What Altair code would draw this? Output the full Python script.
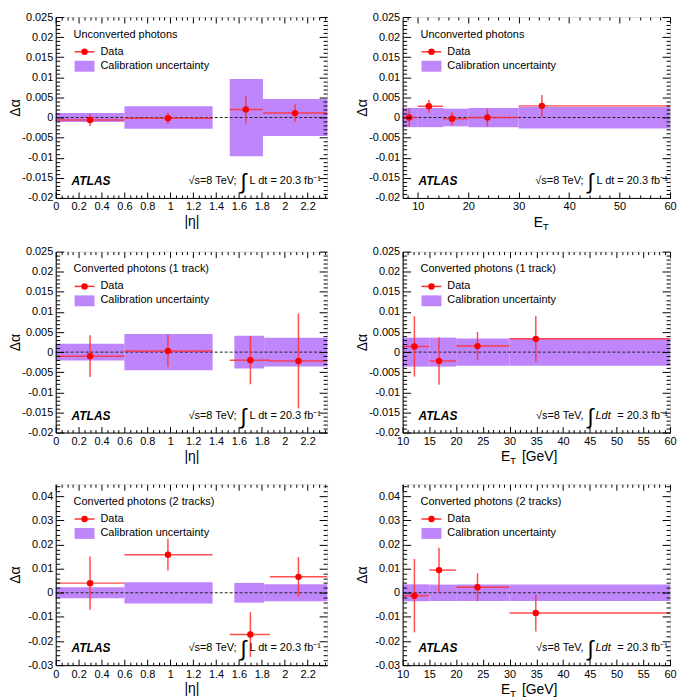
import altair as alt
import pandas as pd

FONT = "Liberation Sans"
PURPLE = "#bf86fb"
RED = "#ff0000"
RED_BAR = "#ff3030"

# ---------------- data ----------------
# (a) Unconverted photons vs |eta|
a_band_lo = [0.0, 0.6, 1.52, 1.81]
a_band_hi = [0.6, 1.37, 1.81, 2.37]
a_band_err = [0.0011, 0.0028, 0.0096, 0.0046]
a_x = [0.30, 0.98, 1.66, 2.09]
a_y = [-0.0006, -0.0002, 0.0020, 0.0011]
a_err = [0.0015, 0.0014, 0.0035, 0.0022]
a_bin_lo = [0.0, 0.6, 1.52, 1.81]
a_bin_hi = [0.6, 1.37, 1.81, 2.37]

# (b) Unconverted photons vs E_T
b_band_lo = [7, 10, 15, 20, 30]
b_band_hi = [10, 15, 20, 30, 60]
b_band_err = [0.0024, 0.0024, 0.0022, 0.0024, 0.0027]
b_x = [8.3, 12.2, 16.8, 23.8, 34.6]
b_y = [0.0000, 0.0028, -0.0003, 0.0000, 0.0029]
b_err = [0.0023, 0.0016, 0.0016, 0.0022, 0.0027]
b_bin_lo = [7, 10, 15, 20, 30]
b_bin_hi = [10, 15, 20, 30, 60]

# (c) Converted photons (1 track) vs |eta|
c_band_lo = [0.0, 0.6, 1.56, 1.82]
c_band_hi = [0.6, 1.37, 1.82, 2.37]
c_band_err = [0.0021, 0.0045, 0.0041, 0.0036]
c_x = [0.30, 0.98, 1.70, 2.12]
c_y = [-0.0010, 0.0003, -0.0020, -0.0022]
c_err = [0.0052, 0.0040, 0.0060, 0.0118]
c_bin_lo = [0.0, 0.6, 1.52, 1.87]
c_bin_hi = [0.6, 1.37, 1.87, 2.37]

# (d) Converted photons (1 track) vs E_T
d_band_lo = [10, 15, 20, 30]
d_band_hi = [15, 20, 30, 60]
d_band_err = [0.0036, 0.0036, 0.0034, 0.0034]
d_x = [12.2, 16.8, 24.0, 34.9]
d_y = [0.0014, -0.0022, 0.0015, 0.0033]
d_err = [0.0075, 0.0059, 0.0035, 0.0057]
d_bin_lo = [10, 15, 20, 30]
d_bin_hi = [15, 20, 30, 60]

# (e) Converted photons (2 tracks) vs |eta|
e_band_lo = [0.0, 0.6, 1.56, 1.82]
e_band_hi = [0.6, 1.37, 1.82, 2.37]
e_band_err = [0.0023, 0.0044, 0.0041, 0.0035]
e_x = [0.30, 0.98, 1.70, 2.12]
e_y = [0.0040, 0.0158, -0.0173, 0.0066]
e_err = [0.0110, 0.0066, 0.0093, 0.0082]
e_bin_lo = [0.0, 0.6, 1.52, 1.87]
e_bin_hi = [0.6, 1.37, 1.87, 2.37]

# (f) Converted photons (2 tracks) vs E_T
f_band_lo = [10, 15, 20, 30]
f_band_hi = [15, 20, 30, 60]
f_band_err = [0.0035, 0.0034, 0.0034, 0.0034]
f_x = [12.2, 16.8, 24.0, 34.9]
f_y = [-0.0012, 0.0094, 0.0023, -0.0084]
f_err = [0.0152, 0.0093, 0.0058, 0.0077]
f_bin_lo = [10, 15, 20, 30]
f_bin_hi = [15, 20, 30, 60]

# axis tick positions
ETA_TICKS = [round(0.05 * i, 2) for i in range(48)]
ET_TICKS_B = list(range(8, 61, 2))
ET_TICKS = list(range(10, 61))
Y_TICKS_TOP = [round(-0.02 + 0.001 * i, 3) for i in range(46)]
Y_TICKS_BOT = [round(-0.03 + 0.002 * i, 3) for i in range(38)]

ONE = pd.DataFrame({"k": [0]})


def txt(s, x, y, size=11, align="left", weight="normal", style="normal"):
    return alt.Chart(ONE).mark_text(
        text=s, align=align, baseline="middle", fontSize=size, font=FONT,
        fontWeight=weight, fontStyle=style, color="black"
    ).encode(x=alt.value(x), y=alt.value(y))


def make_axis(values, major, span, big, small, title, is_x):
    test = f"abs(datum.value / {major} - round(datum.value / {major})) < 0.001"
    lab = f"abs(datum.value / {major} - round(datum.value / {major})) < 0.001 ? replace(format(datum.value, '~g'), '−', '-') : ''"
    kw = dict(
        values=values, labelExpr=lab, ticks=False, domain=True, domainColor="black",
        grid=True, gridColor="black", gridOpacity=1, gridWidth=1,
        gridDash={"condition": {"test": test, "value": [big, span - 2 * big, big, 3000]},
                  "value": [small, span - 2 * small, small, 3000]},
        labelFont=FONT, labelFontSize=11, labelColor="black", labelFlush=False,
        labelOverlap=False, title=title, titleFont=FONT, titleFontSize=14,
        titleFontWeight="normal", titleColor="black", zindex=1,
    )
    if is_x:
        kw.update(labelPadding=3, minExtent=15, maxExtent=15, titlePadding=2)
    else:
        kw.update(labelPadding=3, minExtent=34, maxExtent=34, titlePadding=-1)
    return alt.Axis(**kw)


def panel(band_lo, band_hi, band_err, px, py, perr, bin_lo, bin_hi,
          xdom, ydom, xvals, xmajor, yvals, ymajor, W, H,
          legend_title, xtitle, et_title, energy_style):
    xs = alt.Scale(domain=xdom, nice=False, zero=False)
    ys = alt.Scale(domain=ydom, nice=False, zero=False)
    xa = make_axis(xvals, xmajor, H, 6, 3, xtitle, True)
    ya = make_axis(yvals, ymajor, W, 8, 4, "Δα", False)

    bands = pd.DataFrame({"lo": band_lo, "hi": band_hi,
                          "ylo": [-e for e in band_err], "yhi": band_err})
    pts = pd.DataFrame({"x": px, "y": py, "lo": bin_lo, "hi": bin_hi,
                        "ylo": [a - b for a, b in zip(py, perr)],
                        "yhi": [a + b for a, b in zip(py, perr)]})
    zero = pd.DataFrame({"z": [0.0]})

    layers = [
        alt.Chart(bands).mark_rect(color=PURPLE, opacity=1).encode(
            x=alt.X("lo:Q", scale=xs, axis=xa), x2="hi:Q",
            y=alt.Y("ylo:Q", scale=ys, axis=ya), y2="yhi:Q"),
        alt.Chart(zero).mark_rule(color="#222222", strokeDash=[3, 2], strokeWidth=1).encode(
            y=alt.Y("z:Q", scale=ys, axis=ya)),
        alt.Chart(pts).mark_rule(color=RED_BAR, strokeWidth=1.5, opacity=0.85).encode(
            x=alt.X("lo:Q", scale=xs, axis=xa), x2="hi:Q",
            y=alt.Y("y:Q", scale=ys, axis=ya)),
        alt.Chart(pts).mark_rule(color=RED_BAR, strokeWidth=1.5, opacity=0.85).encode(
            x=alt.X("x:Q", scale=xs, axis=xa),
            y=alt.Y("ylo:Q", scale=ys, axis=ya), y2="yhi:Q"),
        alt.Chart(pts).mark_circle(size=42, color=RED, opacity=1).encode(
            x=alt.X("x:Q", scale=xs, axis=xa),
            y=alt.Y("y:Q", scale=ys, axis=ya)),
        # legend
        txt(legend_title, 18, 18),
        alt.Chart(ONE).mark_rule(color=RED_BAR, strokeWidth=1.5).encode(
            x=alt.value(19), x2=alt.value(39), y=alt.value(35)),
        alt.Chart(ONE).mark_circle(size=42, color=RED, opacity=1).encode(
            x=alt.value(29), y=alt.value(35)),
        txt("Data", 45, 35),
        alt.Chart(ONE).mark_rect(color=PURPLE).encode(
            x=alt.value(19), x2=alt.value(39), y=alt.value(44), y2=alt.value(55)),
        txt("Calibration uncertainty", 45, 49),
        txt("ATLAS", 16, H - 17, 12, weight="bold", style="italic"),
        txt("∫", 189, H - 16, 22, align="center"),
    ]
    if energy_style == "semicolon":
        layers += [txt("√s=8 TeV;", 182, H - 17, 11, align="right"),
                   txt("L dt = 20.3 fb⁻¹", 195, H - 17, 11)]
    else:
        layers += [txt("√s=8 TeV,", 182, H - 17, 11, align="right"),
                   txt("Ldt", 194, H - 17, 11, style="italic"),
                   txt("= 20.3 fb⁻¹", 216, H - 17, 11)]
    if et_title == "short":
        layers += [txt("E", 132, H + 25, 14), txt("T", 141, H + 29, 10)]
    elif et_title == "gev":
        layers += [txt("E", 99, H + 25, 14), txt("T", 108, H + 29, 10),
                   txt("[GeV]", 120, H + 25, 14)]
    return alt.layer(*layers).properties(width=W, height=H)


WL, WR, H = 273, 269, 182
TOPY = [-0.02, 0.025]
BOTY = [-0.03, 0.045]

pa = panel(a_band_lo, a_band_hi, a_band_err, a_x, a_y, a_err, a_bin_lo, a_bin_hi,
           [0, 2.37], TOPY, ETA_TICKS, 0.2, Y_TICKS_TOP, 0.005, WL, H,
           "Unconverted photons", "|η|", None, "semicolon")
pb = panel(b_band_lo, b_band_hi, b_band_err, b_x, b_y, b_err, b_bin_lo, b_bin_hi,
           [7, 60], TOPY, ET_TICKS_B, 10, Y_TICKS_TOP, 0.005, WR, H,
           "Unconverted photons", None, "short", "semicolon")
pc = panel(c_band_lo, c_band_hi, c_band_err, c_x, c_y, c_err, c_bin_lo, c_bin_hi,
           [0, 2.37], TOPY, ETA_TICKS, 0.2, Y_TICKS_TOP, 0.005, WL, H,
           "Converted photons (1 track)", "|η|", None, "semicolon")
pd_ = panel(d_band_lo, d_band_hi, d_band_err, d_x, d_y, d_err, d_bin_lo, d_bin_hi,
            [10, 60], TOPY, ET_TICKS, 5, Y_TICKS_TOP, 0.005, WR, H,
            "Converted photons (1 track)", None, "gev", "comma")
pe = panel(e_band_lo, e_band_hi, e_band_err, e_x, e_y, e_err, e_bin_lo, e_bin_hi,
           [0, 2.37], BOTY, ETA_TICKS, 0.2, Y_TICKS_BOT, 0.01, WL, H,
           "Converted photons (2 tracks)", "|η|", None, "semicolon")
pf = panel(f_band_lo, f_band_hi, f_band_err, f_x, f_y, f_err, f_bin_lo, f_bin_hi,
           [10, 60], BOTY, ET_TICKS, 5, Y_TICKS_BOT, 0.01, WR, H,
           "Converted photons (2 tracks)", None, "gev", "comma")

chart = alt.vconcat(
    alt.hconcat(pa, pb, spacing=26),
    alt.hconcat(pc, pd_, spacing=26),
    alt.hconcat(pe, pf, spacing=26),
    spacing=12,
).properties(padding=0).configure_view(stroke="black", strokeWidth=1).configure(background="white")

chart.save("out.html", embed_options={"renderer": "svg", "actions": False})
